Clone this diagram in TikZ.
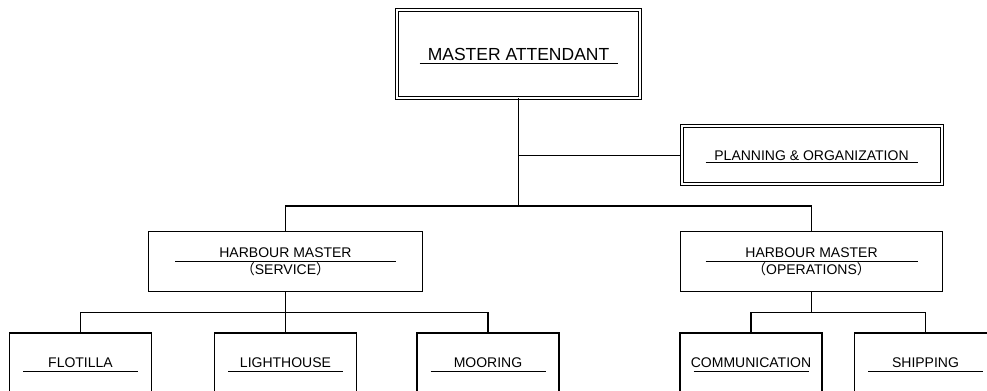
\documentclass[tikz,border=0pt]{standalone}
\usepackage{fontspec}
\setmainfont{Liberation Sans}
\newfontfamily\cjkparen{Noto Sans CJK JP}
\newcommand{\hmlpar}{{\cjkparen （}}
\newcommand{\hmrpar}{{\cjkparen ）}}
\begin{document}
\begin{tikzpicture}[line join=miter,
  box/.style={draw,line width=1.3bp,inner sep=0pt,align=center,font=\fontsize{14bp}{17bp}\selectfont},
  dbox/.style={draw,double,line width=1bp,double distance=2bp,inner sep=0pt},
  uline/.style={line width=1bp},
  link/.style={line width=1.3bp}]
\useasboundingbox (0bp,0bp) rectangle (987bp,391bp);
\clip (0bp,0bp) rectangle (987bp,391bp);
%%
\node (node_master) at (518.5bp,337bp) [dbox,minimum width=243bp,minimum height=88bp,font=\fontsize{17.5bp}{21bp}\selectfont] {MASTER ATTENDANT};
  \node (node_planning) at (811.5bp,235.5bp) [dbox,minimum width=260bp,minimum height=58bp,font=\fontsize{14bp}{17bp}\selectfont] {PLANNING \& ORGANIZATION};
  \node (node_service) at (285.5bp,129.5bp) [box,minimum width=274bp,minimum height=60bp] {HARBOUR MASTER\\\hmlpar SERVICE\hmrpar};
  \node (node_operations) at (811.5bp,129.5bp) [box,minimum width=262bp,minimum height=60bp] {HARBOUR MASTER\\\hmlpar OPERATIONS\hmrpar};
  \node (node_flotilla) at (80.5bp,28bp) [box,minimum width=142bp,minimum height=60bp] {FLOTILLA};
  \node (node_lighthouse) at (285.5bp,28bp) [box,minimum width=142bp,minimum height=60bp] {LIGHTHOUSE};
  \node (node_mooring) at (488bp,28bp) [box,minimum width=142bp,minimum height=60bp] {MOORING};
  \node (node_communication) at (751bp,28bp) [box,minimum width=142bp,minimum height=60bp] {COMMUNICATION};
  \node (node_shipping) at (925.5bp,28bp) [box,minimum width=142bp,minimum height=60bp] {SHIPPING};
  \coordinate (hub) at (518.5bp,185bp);
%
  \draw [uline] ([xshift=-99bp,yshift=-10bp]node_master.center) -- ([xshift=99bp,yshift=-10bp]node_master.center);
  \draw [uline] ([xshift=-106bp,yshift=-7.5bp]node_planning.center) -- ([xshift=106bp,yshift=-7.5bp]node_planning.center);
  \draw [uline] ([xshift=-110.5bp]node_service.center) -- ([xshift=110.5bp]node_service.center);
  \draw [uline] ([xshift=-106bp]node_operations.center) -- ([xshift=106bp]node_operations.center);
  \foreach \n in {flotilla,lighthouse,mooring,communication,shipping}
    \draw [uline] ([xshift=-57.5bp,yshift=-9bp]node_\n.center) -- ([xshift=57.5bp,yshift=-9bp]node_\n.center);
%
  \draw [link] (node_master.south) -- (hub);
  \draw [link] (node_planning.west) -- (node_planning.west -| hub);
  \draw [link] (node_service.north) |- (hub) -| (node_operations.north);
  \draw [link] (node_service.south) -- (node_lighthouse.north);
  \draw [link] (node_flotilla.north) |- ([yshift=-20.5bp]node_service.south) -| (node_mooring.north);
  \draw [link] (node_operations.south) -- ([yshift=-20.5bp]node_operations.south);
  \draw [link] (node_communication.north) |- ([yshift=-20.5bp]node_operations.south) -| (node_shipping.north);
%
\end{tikzpicture}
\end{document}
